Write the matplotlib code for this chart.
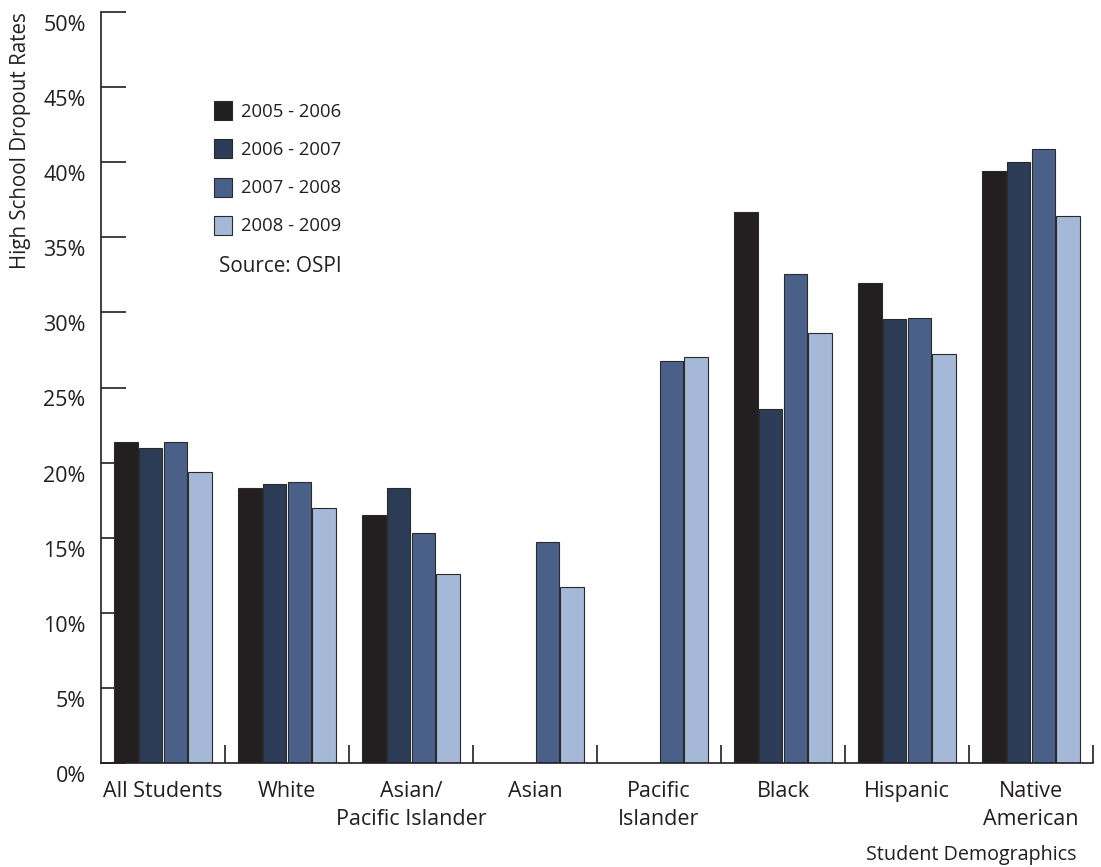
import matplotlib
matplotlib.use("Agg")
import matplotlib.pyplot as plt
import matplotlib.transforms as mtransforms
import numpy as np

plt.rcParams['font.family'] = ['Open Sans', 'DejaVu Sans']

categories = ["All Students", "White", "Asian/\nPacific Islander", "Asian",
              "Pacific\nIslander", "Black", "Hispanic", "Native\nAmerican"]
years = ["2005 - 2006", "2006 - 2007", "2007 - 2008", "2008 - 2009"]
nan = np.nan
rates_0506 = [21.4, 18.3, 16.5, nan, nan, 36.7, 31.95, 39.4]
rates_0607 = [21.0, 18.6, 18.3, nan, nan, 23.6, 29.55, 40.0]
rates_0708 = [21.4, 18.7, 15.3, 14.7, 26.75, 32.55, 29.6, 40.85]
rates_0809 = [19.4, 17.0, 12.6, 11.7, 27.0, 28.6, 27.25, 36.45]
series = [rates_0506, rates_0607, rates_0708, rates_0809]
colors = ["#231F20", "#2D3C56", "#4A6089", "#A6B8D7"]
yticks = [0, 5, 10, 15, 20, 25, 30, 35, 40, 45, 50]

W, H = 1101, 867
fig = plt.figure(figsize=(W / 100, H / 100), dpi=100)
ax = fig.add_axes([101 / W, (H - 763) / H, (1093 - 101) / W, (763 - 12) / H])

x = np.arange(len(categories))
bw = 0.19
step = 0.2
for i, (vals, col) in enumerate(zip(series, colors)):
    ax.bar(x + (i - 1.5) * step, vals, width=bw, color=col,
           edgecolor="#2a2a2a", linewidth=0.8, label=years[i], zorder=2)

ax.set_xlim(-0.5, len(categories) - 0.5)
ax.set_ylim(0, 50)
for s in ["top", "right"]:
    ax.spines[s].set_visible(False)
for s in ["left", "bottom"]:
    ax.spines[s].set_linewidth(1.2)
    ax.spines[s].set_color("#231F20")

ax.set_yticks(yticks)
ax.set_yticklabels([f"{v}%" for v in yticks])
ax.tick_params(axis="y", direction="in", length=18, width=1.2, color="#231F20",
               pad=11, labelsize=15.5, labelcolor="#231F20")
offset = mtransforms.ScaledTranslation(0, -11 / 100, fig.dpi_scale_trans)
for lab in ax.get_yticklabels():
    lab.set_transform(lab.get_transform() + offset)

ax.set_xticks(x)
ax.set_xticklabels(categories, linespacing=1.45)
ax.tick_params(axis="x", which="major", length=0, pad=13, labelsize=15.5,
               labelcolor="#231F20")
ax.set_xticks(np.arange(0.5, len(categories), 1.0), minor=True)
ax.tick_params(axis="x", which="minor", direction="in", length=13, width=1.2,
               color="#231F20")

leg = ax.legend(loc="upper left", bbox_to_anchor=((205 - 101) / 992, (763 - 92) / 751),
                frameon=False, fontsize=13.3, handlelength=0.97, handleheight=1.2,
                handletextpad=0.5, labelspacing=1.0, borderpad=0,
                labelcolor="#231F20")
ax.text((219 - 101) / 992, (763 - 266) / 751, "Source: OSPI", transform=ax.transAxes,
        fontsize=14.9, color="#231F20", va="center", ha="left")

fig.text(21 / W, 1 - 12 / H, "High School Dropout Rates", rotation=90,
         ha="center", va="top", fontsize=14.8, color="#231F20")
fig.text(1077 / W, 1 - 855 / H, "Student Demographics", ha="right", va="center",
         fontsize=14.2, color="#231F20")

fig.savefig("out.png", dpi=100)
